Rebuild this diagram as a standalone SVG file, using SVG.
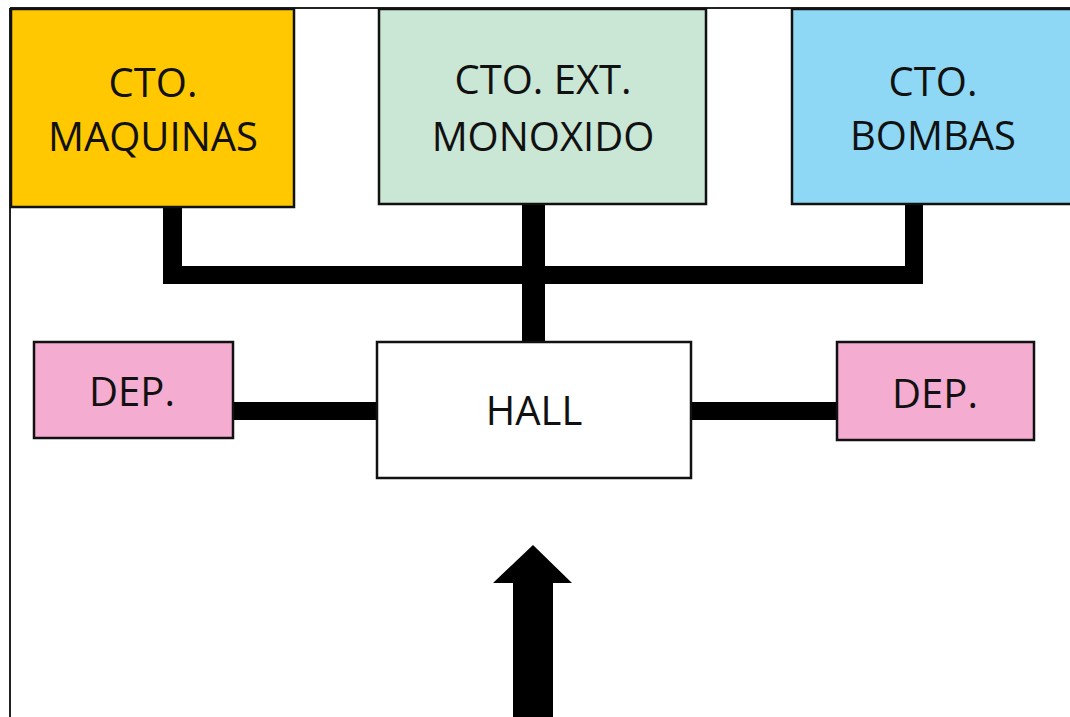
<svg xmlns="http://www.w3.org/2000/svg" width="1070" height="717" viewBox="0 0 1070 717">
<style>
.box{stroke:#111;stroke-width:2.5}
.lbl{font-family:"Open Sans","Liberation Sans",sans-serif;font-size:40px;fill:#111;text-anchor:middle}
.wire{fill:#000}
</style>
<rect x="0" y="0" width="1070" height="717" fill="#fff"/>
<g id="frame">
<line x1="10" y1="8" x2="10" y2="717" stroke="#222" stroke-width="2"/>
<line x1="10" y1="8" x2="1070" y2="8" stroke="#222" stroke-width="2"/>
</g>
<g id="connectors">
<rect class="wire" x="163" y="206" width="19" height="78"/>
<rect class="wire" x="163" y="266" width="760" height="18"/>
<rect class="wire" x="905" y="204" width="18" height="80"/>
<rect class="wire" x="522" y="203" width="23" height="140"/>
<rect class="wire" x="232" y="402" width="145" height="18"/>
<rect class="wire" x="691" y="402" width="147" height="18"/>
<polygon class="wire" points="533,545 572,583 553,583 553,717 513,717 513,583 493,583"/>
</g>
<g id="maquinas">
<rect class="box" x="11" y="9" width="283" height="198" fill="#ffc800"/>
<text class="lbl" x="153" y="97">CTO.</text>
<text class="lbl" x="153" y="151">MAQUINAS</text>
</g>
<g id="monoxido">
<rect class="box" x="379" y="9" width="327" height="195" fill="#cae6d4"/>
<text class="lbl" x="543" y="94">CTO. EXT.</text>
<text class="lbl" x="543" y="151">MONOXIDO</text>
</g>
<g id="bombas">
<rect class="box" x="792" y="9" width="290" height="195" fill="#8ed8f6"/>
<text class="lbl" x="933" y="96">CTO.</text>
<text class="lbl" x="933" y="150">BOMBAS</text>
</g>
<g id="dep-left">
<rect class="box" x="34" y="342" width="199" height="96" fill="#f4acd0"/>
<text class="lbl" x="132" y="406">DEP.</text>
</g>
<g id="hall">
<rect class="box" x="377" y="342" width="314" height="136" fill="#fff"/>
<text class="lbl" x="534" y="425">HALL</text>
</g>
<g id="dep-right">
<rect class="box" x="837" y="342" width="197" height="98" fill="#f4acd0"/>
<text class="lbl" x="935" y="408">DEP.</text>
</g>
</svg>
